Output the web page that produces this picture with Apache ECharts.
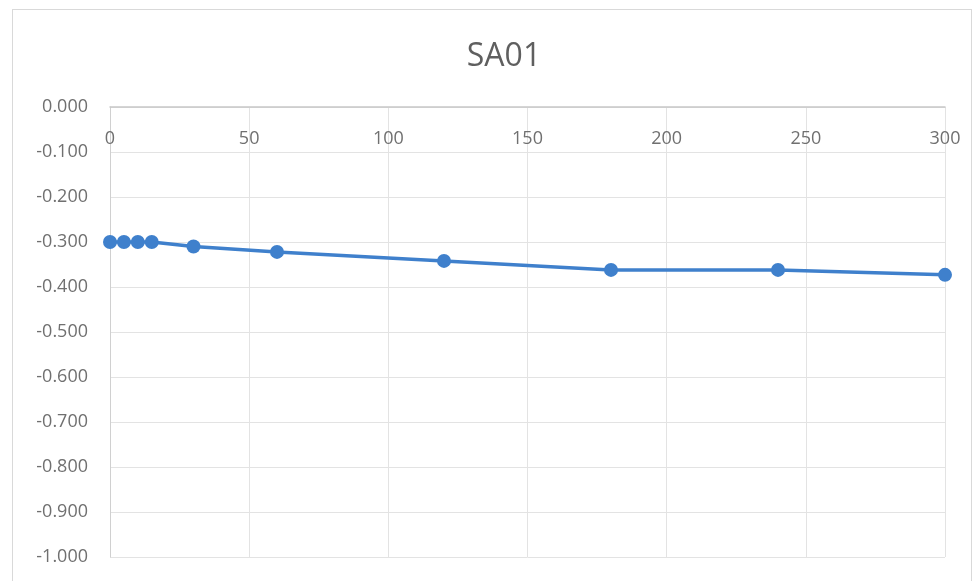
<!DOCTYPE html>
<html><head><meta charset="utf-8">
<script src="https://cdn.jsdelivr.net/npm/echarts@6/dist/echarts.min.js"></script>
<style>html,body{margin:0;padding:0;background:#fff}
#c{position:absolute;left:0;top:0;width:979px;height:581px}
#b{position:absolute;left:12px;top:9px;width:960px;height:580px;border:1px solid #d9d9d9;box-sizing:border-box}</style>
</head><body><div id="b"></div><div id="c"></div>
<script>
var title = "SA01";
var xValues = [0, 5, 10, 15, 30, 60, 120, 180, 240, 300];
var yValues = [-0.300, -0.300, -0.300, -0.300, -0.310, -0.322, -0.342, -0.362, -0.362, -0.373];
var data = xValues.map(function(x,i){return [x, yValues[i]];});
var chart = echarts.init(document.getElementById('c'));
chart.setOption({
  animation:false,
  title:{text:title,left:499,top:36,textAlign:'center',textStyle:{fontFamily:'Open Sans',fontSize:32,fontWeight:'normal',color:'#5f5f5f'}},
  grid:{left:110,right:34,top:107,bottom:24,containLabel:false},
  xAxis:{type:'value',min:0,max:300,interval:50,position:'top',
    axisLine:{onZero:false,lineStyle:{color:'#c8c8c8',width:1.5}},
    axisTick:{show:false},
    axisLabel:{inside:true,margin:23,fontFamily:'Open Sans',fontSize:18,color:'#707070'},
    splitLine:{show:true,lineStyle:{color:'#e3e3e3'}}},
  yAxis:{type:'value',min:-1,max:0,interval:0.1,
    axisLine:{show:true,lineStyle:{color:'#d0d0d0'}},
    axisTick:{show:false},
    axisLabel:{margin:22,fontFamily:'Open Sans',fontSize:18,color:'#707070',formatter:function(v){return v.toFixed(3);}},
    splitLine:{show:true,lineStyle:{color:'#e3e3e3'}}},
  series:[{type:'line',data:data,symbol:'circle',symbolSize:14,
    lineStyle:{color:'#3f80cc',width:3.5},itemStyle:{color:'#3f80cc'}}]
});
</script></body></html>
